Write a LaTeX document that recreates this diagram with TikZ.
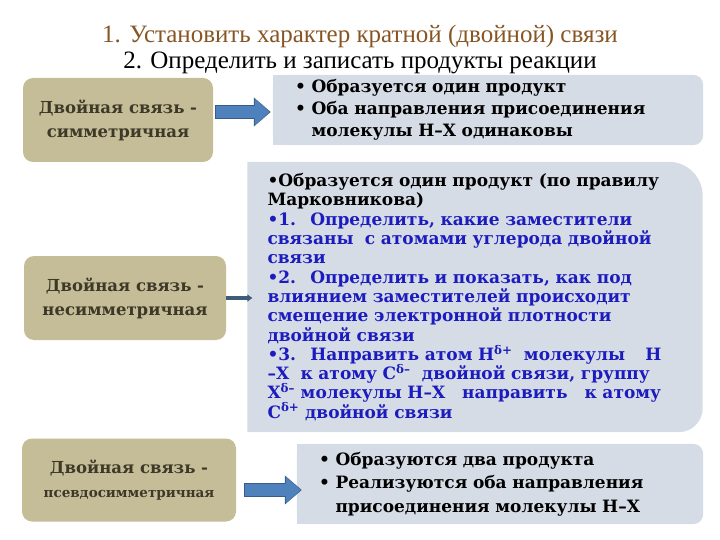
\documentclass[tikz,border=0pt]{standalone}
\usepackage{fontspec}
\setmainfont{DejaVu Serif}
\newfontfamily\titlefont{Liberation Serif}
\usepackage{xcolor}
\usepackage{tikz}
\usetikzlibrary{arrows.meta,positioning,calc,backgrounds}

\definecolor{tanbox}{RGB}{196,189,151}
\definecolor{tantext}{RGB}{62,56,40}
\definecolor{panelfill}{RGB}{214,220,230}
\definecolor{arrowblue}{RGB}{79,129,189}
\definecolor{arrowedge}{RGB}{56,93,138}
\definecolor{slate}{RGB}{62,92,122}
\definecolor{titlebrown}{RGB}{135,85,35}
\definecolor{ruleblue}{RGB}{28,28,190}

\tikzset{
	kind/.style={fill=tanbox, rounded corners=10pt, text=tantext, align=center,
			font=\bfseries\fontsize{16.5}{24}\selectfont},
	panel/.style={inner sep=0pt, inner xsep=22pt, align=left, text=black,
			font=\bfseries\fontsize{17}{22}\selectfont},
	fatedge/.style={arrowedge, line width=14.5pt, -{Triangle[length=17pt,width=28pt]}},
	fatarrow/.style={arrowblue, line width=12pt, -{Triangle[length=15pt,width=25pt]}},
}

\begin{document}
\begin{tikzpicture}[x=1pt,y=1pt]
		\useasboundingbox (0,0) rectangle (720,-540);

		\node[text=titlebrown, font=\titlefont\fontsize{25}{27}\selectfont] (task1) at (360,-36) {1. Установить характер кратной (двойной) связи};
		\node[font=\titlefont\fontsize{25}{27}\selectfont] (task2) at (360,-63) {2. Определить и записать продукты реакции};

		% left column: kind of the double bond
		\node[kind, minimum width=190pt, minimum height=84pt] (sym) at (118,-120) {Двойная связь -\\симметричная};
		\node[kind, minimum width=202pt, minimum height=84pt] (nonsym) at (125,-298) {Двойная связь -\\несимметричная};
		\node[kind, minimum width=214pt, minimum height=83pt] (pseudo) at (129,-480)
			{Двойная связь -\\{\fontsize{13.5}{23}\selectfont псевдосимметричная}};

		% right column: products
		\node[panel, text width=386pt, minimum height=70pt] (symr) at (488,-110)
			{• Образуется один продукт\\
			 • Оба направления присоединения\\
			 \hphantom{• }молекулы  H–X одинаковы};
		\node[panel, inner xsep=20pt, text width=415pt, minimum height=270pt,
			font=\bfseries\fontsize{17}{19.3}\selectfont] (nonsymr) at (475,-297)
			{•Образуется один продукт (по  правилу\\
			 Марковникова)\\
			 \color{ruleblue}•1.~ Определить, какие заместители\\
			 связаны~ с атомами углерода двойной\\
			 связи\\
			 •2.~ Определить и показать, как под\\
			 влиянием заместителей происходит\\
			 смещение электронной плотности\\
			 двойной связи\\
			 •3.~ Направить атом H\textsuperscript{δ+}~ молекулы\hspace{1.2em}H\\
			 –X~ к атому C\textsuperscript{δ–}~ двойной связи, группу\\
			 X\textsuperscript{δ–} молекулы H–X~~ направить~~ к атому\\
			 C\textsuperscript{δ+} двойной связи};
		\node[panel, text width=362pt, minimum height=80pt,
			font=\bfseries\fontsize{17}{23.5}\selectfont] (pseudor) at (500,-484)
			{• Образуются два продукта\\
			 • Реализуются оба направления\\
			 \hphantom{• }присоединения молекулы  H–X};

		\begin{scope}[on background layer]
			\fill[panelfill, rounded corners=10pt] (symr.south west) rectangle (symr.north east);
			\fill[panelfill] (symr.south west) rectangle (symr.north);
			\fill[panelfill] (nonsymr.south west) -- (nonsymr.north west)
				-- ([xshift=-34pt]nonsymr.north east) arc[start angle=90, end angle=0, radius=34pt]
				-- ([yshift=24pt]nonsymr.south east) arc[start angle=0, end angle=-90, radius=24pt] -- cycle;
			\fill[panelfill, rounded corners=10pt] (pseudor.south west) rectangle (pseudor.north east);
			\fill[panelfill] (pseudor.south west) rectangle (pseudor.north);
		\end{scope}

		% arrows
		\draw[fatedge, shorten <=2pt, shorten >=2pt] ([yshift=8pt]sym.east) -- ([yshift=8pt]sym.east -| symr.west);
		\draw[fatarrow, shorten <=3pt, shorten >=3pt] ([yshift=8pt]sym.east) -- ([yshift=8pt]sym.east -| symr.west);
		\draw[slate, line width=3.5pt, -{Triangle[length=5pt,width=7pt]}, shorten >=-5pt] (nonsym.east) -- (nonsym.east -| nonsymr.west);
		\draw[fatedge, shorten <=8pt, shorten >=-5pt] ([yshift=-10pt]pseudo.east) -- ([yshift=-10pt]pseudo.east -| pseudor.west);
		\draw[fatarrow, shorten <=9pt, shorten >=-4pt] ([yshift=-10pt]pseudo.east) -- ([yshift=-10pt]pseudo.east -| pseudor.west);
	\end{tikzpicture}
\end{document}
